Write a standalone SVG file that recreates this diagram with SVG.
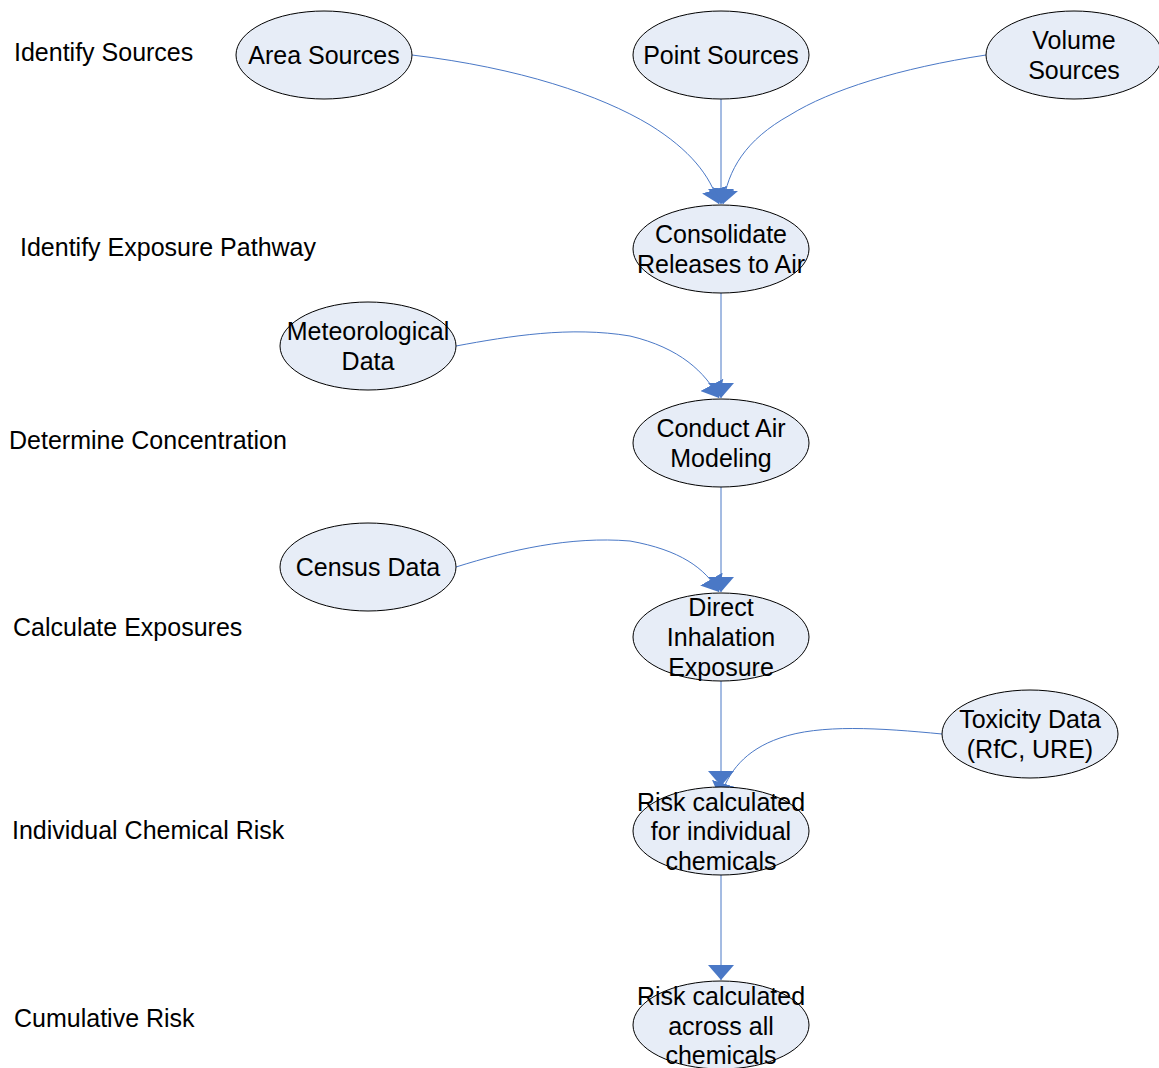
<svg xmlns="http://www.w3.org/2000/svg" width="1159" height="1068" viewBox="0 0 1159 1068">
<style>
  .node ellipse { fill: #E7EDF7; stroke: #000; stroke-width: 1; }
  text { font-family: "Liberation Sans", Arial, sans-serif; font-size: 25px; fill: #000; }
  .node text { text-anchor: middle; }
  .conn path { fill: none; stroke: #4A78C6; stroke-width: 1; marker-end: url(#arr); }
</style>
<defs>
  <marker id="arr" viewBox="0 0 15 26" refX="15" refY="13" markerWidth="15" markerHeight="26" markerUnits="userSpaceOnUse" orient="auto">
    <path d="M0,0 L15,13 L0,26 z" fill="#4A78C6"/>
  </marker>
</defs>
<rect width="1159" height="1068" fill="#fff"/>
<g id="labels">
  <text x="14" y="61">Identify Sources</text>
  <text x="20" y="256">Identify Exposure Pathway</text>
  <text x="9" y="449">Determine Concentration</text>
  <text x="13" y="636">Calculate Exposures</text>
  <text x="12" y="839">Individual Chemical Risk</text>
  <text x="14" y="1027">Cumulative Risk</text>
</g>
<g id="connectors" class="conn">
  <path d="M412,55 C520,68 600,95 650,125 C690,150 710,175 719,204"/>
  <path d="M721,99 L721,204"/>
  <path d="M986,55 C900,68 830,90 790,115 C745,140 728,170 723,204"/>
  <path d="M721,293 L721,398"/>
  <path d="M456,346 C510,336 570,326 630,336 C680,348 705,372 719,398"/>
  <path d="M721,487 L721,592"/>
  <path d="M456,567 C510,550 570,536 630,541 C680,550 705,568 719,592"/>
  <path d="M721,681 L721,786"/>
  <path d="M942,734 C880,728 820,724 780,738 C745,750 728,772 720,798"/>
  <path d="M721,875 L721,980"/>
</g>
<g id="n-area" class="node"><ellipse cx="324" cy="55" rx="88" ry="44"/><text x="324" y="64">Area Sources</text></g>
<g id="n-point" class="node"><ellipse cx="721" cy="55" rx="88" ry="44"/><text x="721" y="64">Point Sources</text></g>
<g id="n-volume" class="node"><ellipse cx="1074" cy="55" rx="88" ry="44"/><text x="1074" y="49">Volume</text><text x="1074" y="79">Sources</text></g>
<g id="n-consolidate" class="node"><ellipse cx="721" cy="249" rx="88" ry="44"/><text x="721" y="243">Consolidate</text><text x="721" y="273">Releases to Air</text></g>
<g id="n-met" class="node"><ellipse cx="368" cy="346" rx="88" ry="44"/><text x="368" y="340">Meteorological</text><text x="368" y="370">Data</text></g>
<g id="n-conduct" class="node"><ellipse cx="721" cy="443" rx="88" ry="44"/><text x="721" y="437">Conduct Air</text><text x="721" y="467">Modeling</text></g>
<g id="n-census" class="node"><ellipse cx="368" cy="567" rx="88" ry="44"/><text x="368" y="576">Census Data</text></g>
<g id="n-direct" class="node"><ellipse cx="721" cy="637" rx="88" ry="44"/><text x="721" y="616">Direct</text><text x="721" y="646">Inhalation</text><text x="721" y="676">Exposure</text></g>
<g id="n-tox" class="node"><ellipse cx="1030" cy="734" rx="88" ry="44"/><text x="1030" y="728">Toxicity Data</text><text x="1030" y="758">(RfC, URE)</text></g>
<g id="n-riskind" class="node"><ellipse cx="721" cy="831" rx="88" ry="44"/><text x="721" y="811">Risk calculated</text><text x="721" y="840">for individual</text><text x="721" y="870">chemicals</text></g>
<g id="n-riskall" class="node"><ellipse cx="721" cy="1025" rx="88" ry="44"/><text x="721" y="1005">Risk calculated</text><text x="721" y="1035">across all</text><text x="721" y="1064">chemicals</text></g>
</svg>
